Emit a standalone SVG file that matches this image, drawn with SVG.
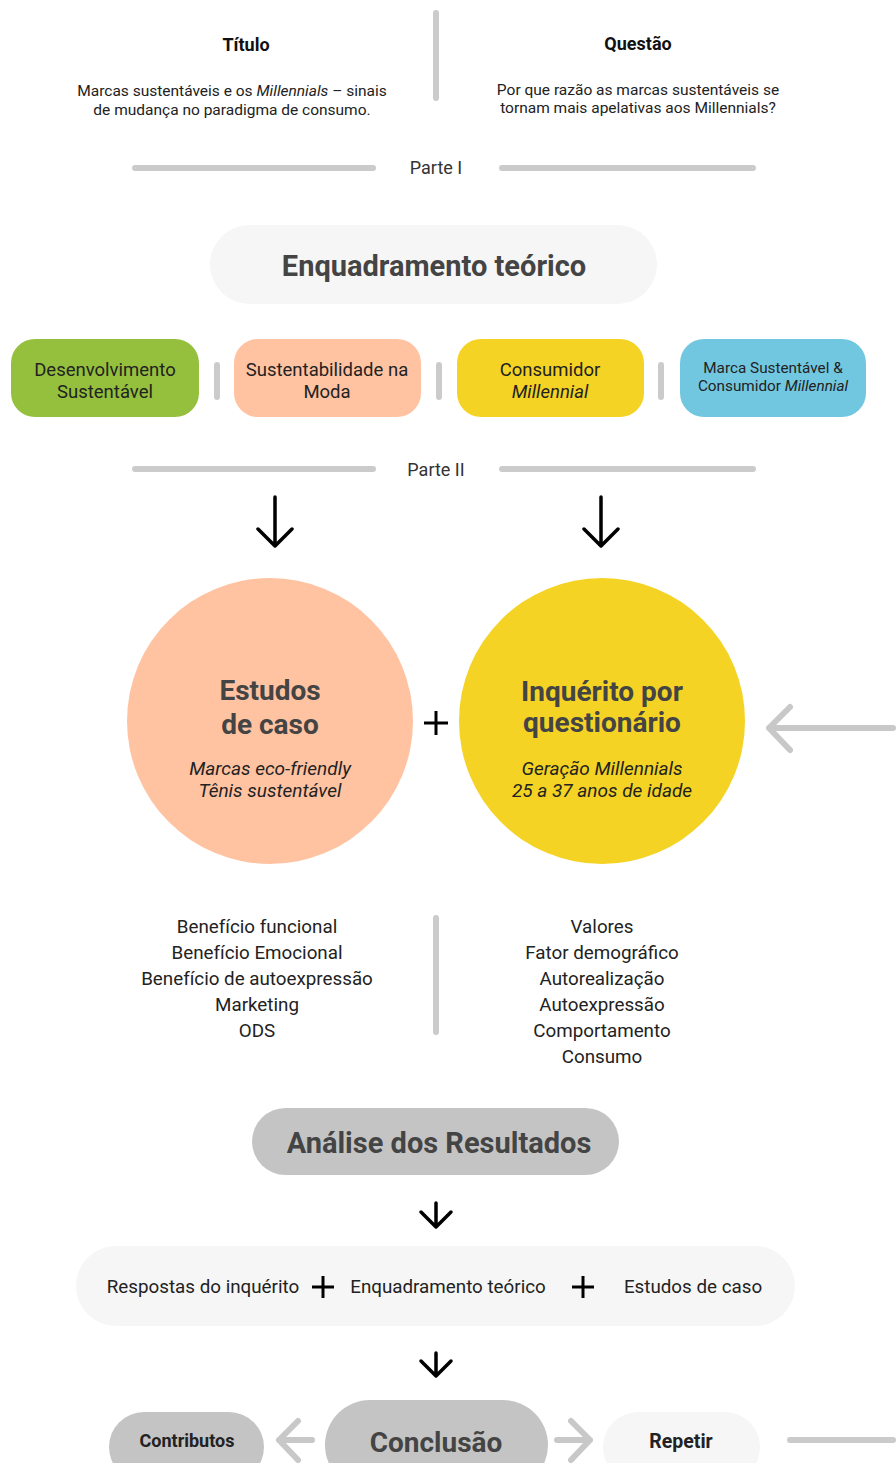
<svg xmlns="http://www.w3.org/2000/svg" width="896" height="1463" viewBox="0 0 896 1463">
<style>
text{font-family:Roboto,"Liberation Sans",sans-serif;text-anchor:middle;fill:#222}
.h{font-weight:bold;font-size:18px;fill:#111}
.p{font-size:15.5px}
.part{font-size:18px;fill:#333}
.big{font-weight:bold;font-size:29px;fill:#444}
.box{font-size:18.5px;fill:#222}
.boxs{font-size:15.3px;fill:#222}
.ci{font-weight:bold;font-size:28px;fill:#444}
.it{font-style:italic;font-size:19px;fill:#222}
.li{font-size:18.8px;fill:#222}
.bar{stroke:#cbcbcb;stroke-width:6;stroke-linecap:round;fill:none}
.blk{stroke:#000;stroke-width:3.5;fill:none;stroke-linecap:round;stroke-linejoin:round}
.gra{stroke:#c8c8c8;stroke-width:6;fill:none;stroke-linecap:round;stroke-linejoin:round}
.plus{stroke:#000;stroke-width:3;fill:none}
</style>
<rect width="896" height="1463" fill="#fff"/>
<g id="header">
<line class="bar" x1="436" y1="13" x2="436" y2="98"/>
<text class="h" x="246" y="51">Título</text>
<text class="p" x="232" y="96">Marcas sustentáveis e os <tspan font-style="italic">Millennials</tspan> – sinais</text>
<text class="p" x="232" y="115">de mudança no paradigma de consumo.</text>
<text class="h" x="638" y="50">Questão</text>
<text class="p" x="638" y="95">Por que razão as marcas sustentáveis se</text>
<text class="p" x="638" y="113">tornam mais apelativas aos Millennials?</text>
</g>
<g id="parte1">
<line class="bar" x1="135" y1="168" x2="373" y2="168"/>
<line class="bar" x1="502" y1="168" x2="753" y2="168"/>
<text class="part" x="436" y="174">Parte I</text>
</g>
<g id="enquadramento">
<rect x="210" y="225" width="447" height="79" rx="39.5" fill="#f6f6f6"/>
<text class="big" x="434" y="276">Enquadramento teórico</text>
</g>
<g id="box1">
<rect x="11" y="339" width="188" height="78" rx="24" fill="#95c03d"/>
<text class="box" x="105" y="376">Desenvolvimento</text>
<text class="box" x="105" y="398">Sustentável</text>
</g>
<g id="box2">
<rect x="234" y="339" width="187" height="78" rx="24" fill="#ffc3a2"/>
<text class="box" x="327" y="376">Sustentabilidade na</text>
<text class="box" x="327" y="398">Moda</text>
</g>
<g id="box3">
<rect x="457" y="339" width="187" height="78" rx="24" fill="#f5d325"/>
<text class="box" x="550" y="376">Consumidor</text>
<text class="box" x="550" y="398" font-style="italic">Millennial</text>
</g>
<g id="box4">
<rect x="680" y="339" width="186" height="78" rx="24" fill="#72c7e0"/>
<text class="boxs" x="773" y="373">Marca Sustentável &amp;</text>
<text class="boxs" x="773" y="391">Consumidor <tspan font-style="italic">Millennial</tspan></text>
</g>
<g id="separators">
<line class="bar" x1="217" y1="365" x2="217" y2="397"/>
<line class="bar" x1="439" y1="365" x2="439" y2="397"/>
<line class="bar" x1="661" y1="365" x2="661" y2="397"/>
</g>
<g id="parte2">
<line class="bar" x1="135" y1="469" x2="373" y2="469"/>
<line class="bar" x1="502" y1="469" x2="753" y2="469"/>
<text class="part" x="436" y="476">Parte II</text>
</g>
<g id="estudos">
<circle cx="270" cy="721" r="143" fill="#ffc3a2"/>
<text class="ci" x="270" y="700" font-size="29">Estudos</text>
<text class="ci" x="270" y="734" font-size="29">de caso</text>
<text class="it" x="270" y="775">Marcas eco-friendly</text>
<text class="it" x="270" y="797">Tênis sustentável</text>
</g>
<g id="inquerito">
<circle cx="602" cy="721" r="143" fill="#f4d324"/>
<text class="ci" x="602" y="701">Inquérito por</text>
<text class="ci" x="602" y="732">questionário</text>
<text class="it" x="602" y="775">Geração Millennials</text>
<text class="it" x="602" y="797">25 a 37 anos de idade</text>
</g>
<g id="lists">
<text class="li" x="257" y="933">Benefício funcional</text>
<text class="li" x="257" y="959">Benefício Emocional</text>
<text class="li" x="257" y="985">Benefício de autoexpressão</text>
<text class="li" x="257" y="1011">Marketing</text>
<text class="li" x="257" y="1037">ODS</text>
<line class="bar" x1="436" y1="918" x2="436" y2="1032"/>
<text class="li" x="602" y="933">Valores</text>
<text class="li" x="602" y="959">Fator demográfico</text>
<text class="li" x="602" y="985">Autorealização</text>
<text class="li" x="602" y="1011">Autoexpressão</text>
<text class="li" x="602" y="1037">Comportamento</text>
<text class="li" x="602" y="1063">Consumo</text>
</g>
<g id="analise">
<rect x="252" y="1108" width="367" height="67" rx="33.5" fill="#c4c4c4"/>
<text class="big" x="439" y="1153">Análise dos Resultados</text>
</g>
<g id="sintese">
<rect x="76" y="1246" width="719" height="80" rx="40" fill="#f6f6f6"/>
<text class="li" x="203" y="1293">Respostas do inquérito</text>
<text class="li" x="448" y="1293">Enquadramento teórico</text>
<text class="li" x="693" y="1293">Estudos de caso</text>
</g>
<g id="contributos">
<rect x="109" y="1412" width="155" height="70" rx="35" fill="#c4c4c4"/>
<text x="187" y="1447" font-weight="bold" font-size="18" fill="#333">Contributos</text>
</g>
<g id="conclusao">
<rect x="325" y="1400" width="223" height="90" rx="45" fill="#c4c4c4"/>
<text class="ci" x="436" y="1452" font-size="29">Conclusão</text>
</g>
<g id="repetir">
<rect x="603" y="1412" width="157" height="70" rx="35" fill="#f6f6f6"/>
<text x="681" y="1448" font-weight="bold" font-size="19.5" fill="#333">Repetir</text>
</g>
<g id="connectors">
<path class="blk" d="M275 497V545M258 529L275 546L292 529"/>
<path class="blk" d="M601 497V545M584 529L601 546L618 529"/>
<path class="plus" d="M436 711V735M424 723H448"/>
<path class="gra" d="M893 728H769M790 707L769 728L790 750"/>
<path class="blk" d="M436 1203V1227M421 1212L436 1227L451 1212"/>
<path class="plus" d="M323 1276V1298M312 1287H334"/>
<path class="plus" d="M583 1276V1298M572 1287H594"/>
<path class="blk" d="M436 1353V1376M421 1361L436 1376L451 1361"/>
<path class="gra" d="M312 1440H279M298 1421L279 1440L298 1460"/>
<path class="gra" d="M557 1440H590M571 1421L590 1440L571 1460"/>
<path class="bar" d="M790 1440H893"/>
</g>
</svg>
